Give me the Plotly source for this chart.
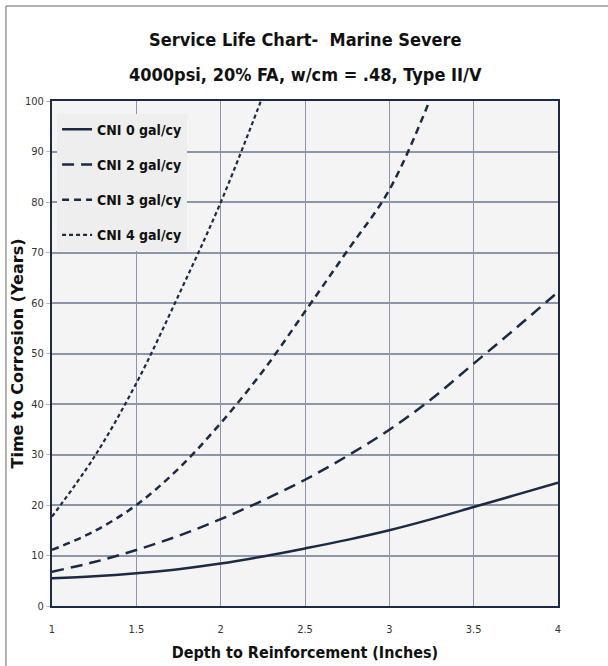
import plotly.graph_objects as go

depth = [1.0, 1.25, 1.5, 1.75, 2.0, 2.25, 2.5, 2.75, 3.0, 3.25, 3.5, 3.75, 4.0]
cni0 = [5.5, 5.9, 6.5, 7.3, 8.4, 9.8, 11.4, 13.1, 15.0, 17.2, 19.6, 22.0, 24.4]
cni2 = [6.8, 8.7, 11.1, 13.9, 17.2, 20.9, 25.0, 29.7, 34.9, 41.0, 48.0, 55.0, 62.2]
depth3 = [1.0, 1.25, 1.5, 1.75, 2.0, 2.25, 2.5, 2.75, 3.0, 3.25]
cni3 = [11.1, 14.8, 20.0, 27.2, 36.2, 46.5, 58.3, 70.3, 82.4, 101.0]
depth4 = [1.0, 1.25, 1.5, 1.75, 2.0, 2.25]
cni4 = [17.7, 29.5, 44.1, 61.5, 79.9, 101.0]

names = ["CNI 0 gal/cy", "CNI 2 gal/cy", "CNI 3 gal/cy", "CNI 4 gal/cy"]
title_lines = ["Service Life Chart-  Marine Severe", "4000psi, 20% FA, w/cm = .48, Type II/V"]
y_title = "Time to Corrosion (Years)"
x_title = "Depth to Reinforcement (Inches)"
xticks = [1, 1.5, 2, 2.5, 3, 3.5, 4]
xticklabels = ["1", "1.5", "2", "2.5", "3", "3.5", "4"]
yticks = list(range(0, 101, 10))

navy = "#1c2a45"
narrow = "DejaVu Sans Condensed, Liberation Sans Narrow, sans-serif"

fig = go.Figure()
styles = [("solid", 2.5), ("12px,7px", 2.5), ("7px,5px", 2.5), ("4px,3px", 2.2)]
xs = [depth, depth, depth3, depth4]
ys = [cni0, cni2, cni3, cni4]
for i in range(4):
    fig.add_trace(go.Scatter(x=xs[i], y=ys[i], mode="lines", name=names[i],
                             legendgroup=f"g{i}",
                             line=dict(color=navy, width=styles[i][1], shape="spline", dash=styles[i][0])))

fig.update_layout(
    width=608, height=666,
    margin=dict(l=52, r=50, t=101, b=60),
    paper_bgcolor="white",
    plot_bgcolor="#f4f4f4",
    showlegend=True,
    legend=dict(
        x=0.01, y=0.975, xanchor="left", yanchor="top",
        bgcolor="#eeeeee", bordercolor="rgba(0,0,0,0)", borderwidth=0,
        font=dict(family=narrow, size=14, color="#111111", weight="bold"),
        itemwidth=30, tracegroupgap=14,
    ),
    xaxis=dict(
        range=[1, 4], tickvals=xticks, ticktext=xticklabels, automargin=False,
        showgrid=True, gridcolor="#8d96a8", gridwidth=1,
        zeroline=False, showline=True, linecolor=navy, linewidth=2, mirror=True,
        ticks="", ticklabelstandoff=12,
        tickfont=dict(family=narrow, size=11, color="#333333"),
        title=dict(text=f"<b>{x_title}</b>", standoff=12,
                   font=dict(family=narrow, size=16, color="#111111")),
    ),
    yaxis=dict(
        range=[0, 100], tickvals=yticks, automargin=False,
        showgrid=True, gridcolor="#8d96a8", gridwidth=1.5,
        zeroline=False, showline=True, linecolor=navy, linewidth=2, mirror=True,
        ticks="outside", ticklen=4, tickcolor="#bbbbbb",
        tickfont=dict(family=narrow, size=11, color="#333333"),
    ),
)

fig.add_annotation(text=f"<b>{y_title}</b>", xref="paper", yref="paper", x=-0.0672, y=0.5,
                   xanchor="center", yanchor="middle", textangle=-90, showarrow=False,
                   font=dict(family="DejaVu Sans, Verdana, sans-serif", size=16, color="#111111"))

for txt, yy in zip(title_lines, [1.1208, 1.0515]):
    fig.add_annotation(text=f"<b>{txt}</b>", xref="paper", yref="paper", x=0.5, y=yy,
                       xanchor="center", yanchor="middle", showarrow=False,
                       font=dict(family=narrow, size=18, color="#111111"))

# outer frame lines (top & left of the image border)
fig.add_shape(type="line", xref="paper", yref="paper", x0=-0.091, x1=1.2, y0=1.188, y1=1.188,
              line=dict(color="#999999", width=1.5))
fig.add_shape(type="line", xref="paper", yref="paper", x0=-0.091, x1=-0.091, y0=1.188, y1=-0.2,
              line=dict(color="#999999", width=1.5))

fig.write_html("out.html", config={"displayModeBar": False},
               post_script="document.body.style.margin='0';document.body.style.overflow='hidden';")
